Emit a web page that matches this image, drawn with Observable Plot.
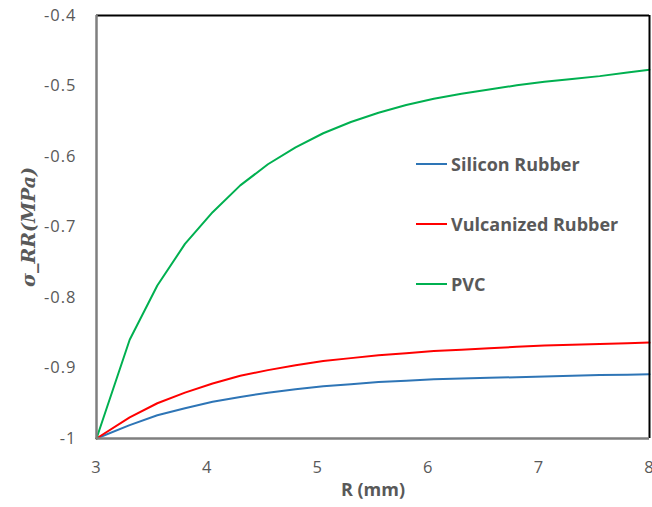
<!DOCTYPE html>
<html>
<head>
<meta charset="utf-8">
<script src="https://cdn.jsdelivr.net/npm/d3@7"></script>
<script src="https://cdn.jsdelivr.net/npm/@observablehq/plot@0.6"></script>
<style>
  html, body { margin: 0; padding: 0; background: #fff; }
  #wrap { position: relative; width: 652px; height: 507px; }
  .legend { position: absolute; left: 416px; font-family: "Open Sans", sans-serif; font-weight: bold; font-size: 18px; color: #595959; display: flex; align-items: center; white-space: nowrap; }
  .legend .sw { width: 31px; height: 2px; margin-right: 4px; }
  g[aria-label$="tick label"] text { letter-spacing: 1px; }
</style>
</head>
<body>
<div id="wrap"></div>
<script>
const R = [3.0, 3.3, 3.55, 3.8, 4.05, 4.3, 4.55, 4.8, 5.05, 5.3, 5.55, 5.8, 6.05, 6.3, 6.55, 6.8, 7.05, 7.3, 7.55, 7.8, 8.0];
const silicon = [-1.000, -0.981, -0.967, -0.957, -0.948, -0.941, -0.935, -0.930, -0.926, -0.923, -0.920, -0.918, -0.916, -0.915, -0.914, -0.913, -0.912, -0.911, -0.910, -0.9095, -0.909];
const vulcanized = [-1.000, -0.970, -0.950, -0.935, -0.922, -0.911, -0.903, -0.896, -0.890, -0.886, -0.882, -0.879, -0.876, -0.874, -0.872, -0.870, -0.868, -0.867, -0.866, -0.865, -0.864];
const pvc = [-1.000, -0.860, -0.783, -0.724, -0.679, -0.641, -0.611, -0.587, -0.567, -0.551, -0.538, -0.527, -0.518, -0.511, -0.505, -0.499, -0.494, -0.490, -0.486, -0.481, -0.477];
const seriesNames = ["Silicon Rubber", "Vulcanized Rubber", "PVC"];
const seriesColors = ["#2E75B6", "#FF0000", "#00B050"];
const yTicks = [-1, -0.9, -0.8, -0.7, -0.6, -0.5, -0.4];
const xTicks = [3, 4, 5, 6, 7, 8];

const values = [silicon, vulcanized, pvc];
const data = [];
seriesNames.forEach((name, i) => {
  R.forEach((r, j) => data.push({series: name, R: r, s: values[i][j]}));
});

const fmt = d => String(+(+d).toFixed(1));

const plot = Plot.plot({
  width: 652,
  height: 507,
  marginLeft: 96,
  marginRight: 3,
  marginTop: 15,
  marginBottom: 69,
  style: {fontFamily: "'Open Sans', sans-serif", background: "#fff"},
  x: {domain: [3, 8]},
  y: {domain: [-1, -0.4]},
  color: {domain: seriesNames, range: seriesColors},
  marks: [
    Plot.axisX({ticks: xTicks, tickSize: 0, tickPadding: 23, tickFormat: fmt, fontSize: 16.5, color: "#595959", label: null}),
    Plot.axisY({ticks: yTicks, tickSize: 0, tickPadding: 20, tickFormat: fmt, fontSize: 16.5, color: "#595959", label: null}),
    Plot.line(data, {x: "R", y: "s", z: "series", stroke: "series", strokeWidth: 2}),
    Plot.ruleX([8], {stroke: "#000", strokeWidth: 2}),
    Plot.ruleY([-0.4], {stroke: "#000", strokeWidth: 2}),
    Plot.ruleX([3], {stroke: "#7f7f7f", strokeWidth: 2.5}),
    Plot.ruleY([-1], {stroke: "#7f7f7f", strokeWidth: 2.5}),
    Plot.text(["R (mm)"], {frameAnchor: "bottom", textAnchor: "middle", dy: 57, fontSize: 18, fontWeight: "bold", fill: "#595959"}),
    Plot.text(["σ_RR(MPa)"], {frameAnchor: "left", textAnchor: "middle", dx: -68, dy: 0, rotate: -90, fontSize: 19, fontWeight: "bold", fontStyle: "italic", fontFamily: "'DejaVu Serif', serif", fill: "#595959"})
  ]
});

const wrap = document.getElementById("wrap");
wrap.appendChild(plot);

const legendTops = [164, 224, 284];
seriesNames.forEach((name, i) => {
  const div = document.createElement("div");
  div.className = "legend";
  div.style.top = (legendTops[i] - 12) + "px";
  div.style.height = "24px";
  div.innerHTML = `<span class="sw" style="background:${seriesColors[i]}"></span><span>${name}</span>`;
  wrap.appendChild(div);
});
</script>
</body>
</html>
